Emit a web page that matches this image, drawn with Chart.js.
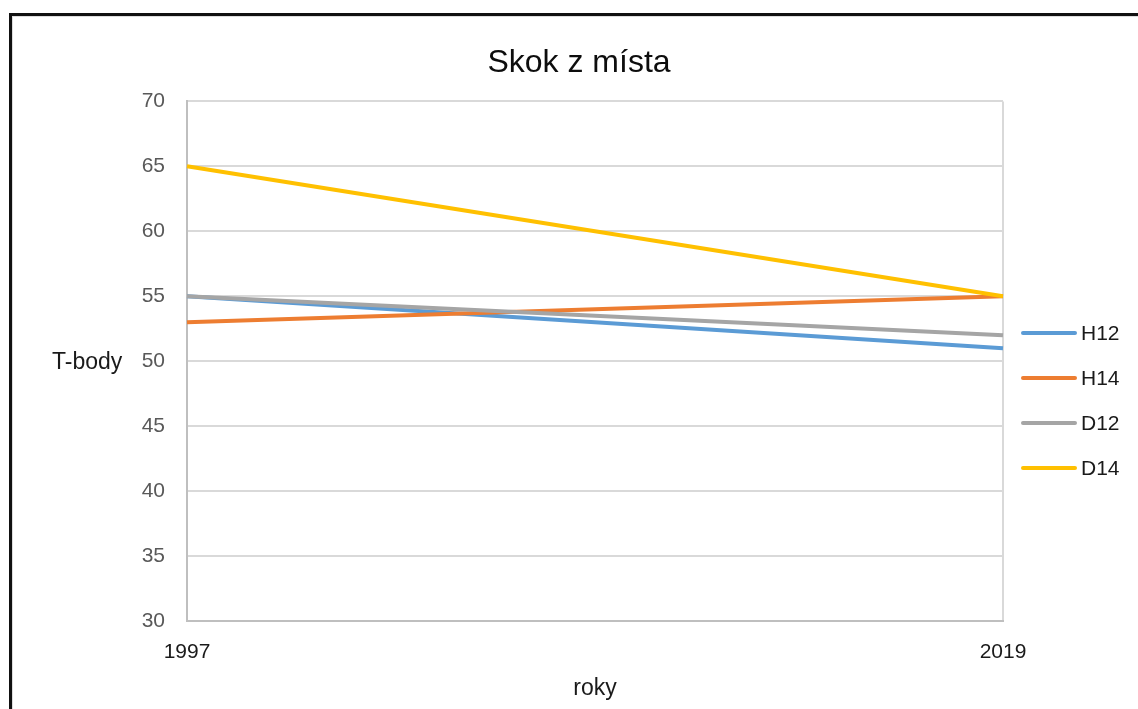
<!DOCTYPE html>
<html>
<head>
<meta charset="utf-8">
<title>Skok z místa</title>
<script src="https://cdn.jsdelivr.net/npm/chart.js@4"></script>
<style>
  html, body { margin: 0; padding: 0; background: #fff; }
  #wrap { position: relative; width: 1138px; height: 709px; overflow: hidden; }
  #frame {
    position: absolute; left: 9px; top: 13px; width: 1200px; height: 800px;
    border-left: 3px solid #111; border-top: 3px solid #111;
    box-shadow: inset 1px 1px 0 #ddd;
    pointer-events: none;
  }
  canvas { display: block; }
</style>
</head>
<body>
<div id="wrap">
  <canvas id="chart" width="1138" height="709"></canvas>
  <div id="frame"></div>
</div>
<script>
// Years and T-score values for each age group
const years = ['1997', '2019'];
const h12 = [55, 51];
const h14 = [53, 55];
const d12 = [55, 52];
const d14 = [65, 55];
const seriesNames = ['H12', 'H14', 'D12', 'D14'];
const seriesColors = ['#5b9bd5', '#ed7d31', '#a5a5a5', '#ffc000'];
const yTicks = [30, 35, 40, 45, 50, 55, 60, 65, 70];

const FONT = '"Liberation Sans", Arial, sans-serif';

// Horizontal y-axis caption and a right-hand legend with line samples
const extras = {
  id: 'extras',
  afterDraw(chart) {
    const ctx = chart.ctx;
    ctx.save();
    ctx.font = '23px ' + FONT;
    ctx.fillStyle = '#1a1a1a';
    ctx.textAlign = 'left';
    ctx.textBaseline = 'middle';
    ctx.fillText('T-body', 52, 363);

    ctx.font = '21px ' + FONT;
    chart.data.datasets.forEach((ds, i) => {
      const y = 333 + i * 45;
      ctx.strokeStyle = ds.borderColor;
      ctx.lineWidth = 4;
      ctx.lineCap = 'round';
      ctx.beginPath();
      ctx.moveTo(1023, y);
      ctx.lineTo(1075, y);
      ctx.stroke();
      ctx.fillStyle = '#1a1a1a';
      ctx.fillText(ds.label, 1081, y + 1);
    });
    ctx.restore();
  }
};

const values = [h12, h14, d12, d14];
const datasets = seriesNames.map((name, i) => ({
  label: name,
  data: values[i],
  borderColor: seriesColors[i],
  backgroundColor: seriesColors[i],
  borderWidth: 4,
  pointRadius: 0,
  pointHoverRadius: 0,
  tension: 0,
  fill: false,
  order: seriesNames.length - i
}));

new Chart(document.getElementById('chart'), {
  type: 'line',
  data: { labels: years, datasets },
  options: {
    responsive: false,
    animation: false,
    events: [],
    layout: { padding: { left: 20, right: 0, top: 0, bottom: 0 } },
    plugins: {
      legend: { display: false },
      tooltip: { enabled: false },
      title: {
        display: true,
        text: 'Skok z místa',
        color: '#0d0d0d',
        font: { family: FONT, size: 32, weight: 'normal' },
        padding: { top: 44, bottom: 19 }
      }
    },
    scales: {
      x: {
        type: 'category',
        offset: false,
        grid: { color: '#d9d9d9', lineWidth: 2, drawTicks: false },
        border: { color: '#bfbfbf', width: 2 },
        ticks: {
          color: '#1a1a1a',
          font: { family: FONT, size: 21 },
          padding: 19,
          maxRotation: 0
        },
        title: {
          display: true,
          text: 'roky',
          color: '#1a1a1a',
          font: { family: FONT, size: 23 },
          padding: { top: 2, bottom: 7 }
        },
        afterFit(scale) { scale.height = 88; }
      },
      y: {
        min: 30,
        max: 70,
        grid: { color: '#d9d9d9', lineWidth: 2, drawTicks: false },
        border: { color: '#bfbfbf', width: 2 },
        ticks: {
          stepSize: 5,
          color: '#595959',
          font: { family: FONT, size: 21 },
          padding: 22,
          callback: (v) => (yTicks.includes(v) ? String(v) : '')
        },
        afterFit(scale) { scale.width = 167; }
      },
      // empty right-hand strip that holds the legend
      side: {
        position: 'right',
        display: true,
        grid: { display: false, drawTicks: false },
        border: { display: false },
        ticks: { display: false },
        afterFit(scale) { scale.width = 135; }
      }
    }
  },
  plugins: [extras]
});
</script>
</body>
</html>
